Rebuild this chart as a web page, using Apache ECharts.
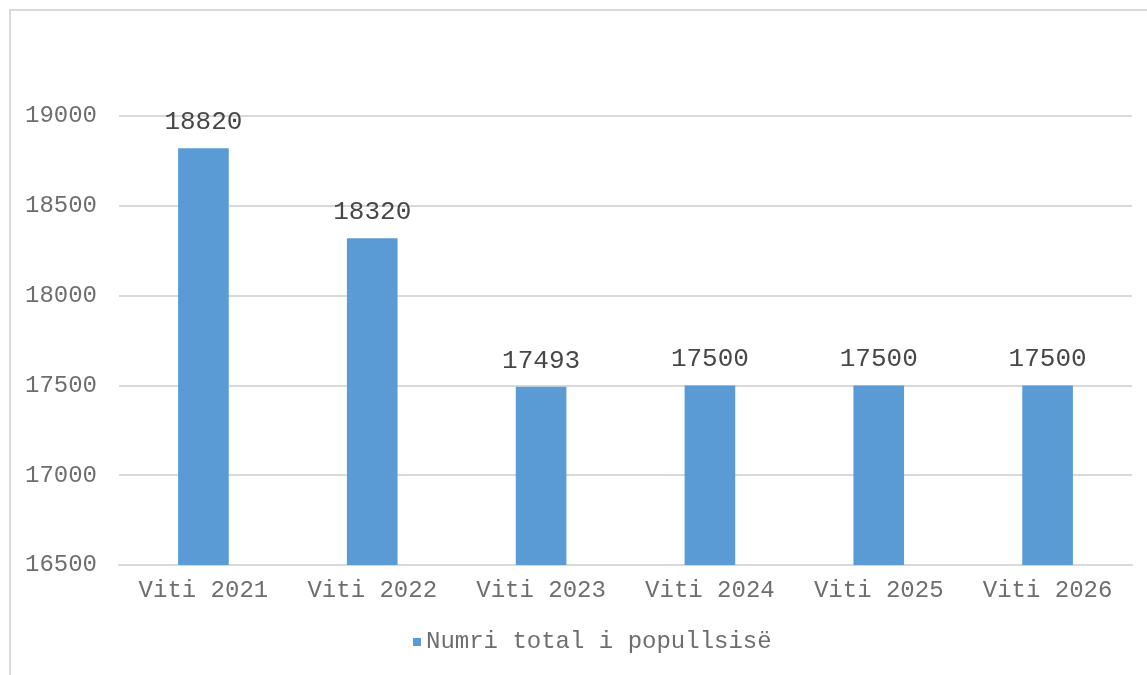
<!DOCTYPE html>
<html><head><meta charset="utf-8">
<script src="https://cdn.jsdelivr.net/npm/echarts@6/dist/echarts.min.js"></script>
<style>
html,body{margin:0;padding:0;background:#fff;overflow:hidden;}
#frame{position:absolute;left:9px;top:9px;width:1200px;height:700px;border:2px solid #d9d9d9;box-sizing:border-box;}
#c{position:absolute;left:0;top:0;width:1147px;height:675px;}
</style></head>
<body>
<div id="frame"></div>
<div id="c"></div>
<script>
const categories = ["Viti 2021","Viti 2022","Viti 2023","Viti 2024","Viti 2025","Viti 2026"];
const values = [18820, 18320, 17493, 17500, 17500, 17500];
const seriesName = "Numri total i popullsisë";
const yMin = 16500, yMax = 19000, yStep = 500;

const font = '"Liberation Mono", "Courier New", monospace';
const chart = echarts.init(document.getElementById('c'));
chart.setOption({
  animation:false,
  backgroundColor:'transparent',
  grid:{left:119, right:15, top:116, bottom:110, containLabel:false},
  legend:{
    data:[seriesName], bottom:16, left:408,
    icon:'rect', itemWidth:8, itemHeight:8, itemGap:6,
    textStyle:{fontFamily:font, fontSize:24, color:'#6e6e6e'}
  },
  xAxis:{
    type:'category', data:categories,
    axisLine:{lineStyle:{color:'#d9d9d9', width:2}},
    axisTick:{show:false},
    axisLabel:{fontFamily:font, fontSize:24, color:'#6e6e6e', margin:14}
  },
  yAxis:{
    type:'value', min:yMin, max:yMax, interval:yStep,
    axisLine:{show:false}, axisTick:{show:false},
    splitLine:{lineStyle:{color:'#d9d9d9', width:2}},
    axisLabel:{fontFamily:font, fontSize:24, color:'#6e6e6e', margin:22, formatter: v => String(v)}
  },
  series:[{
    name:seriesName, type:'bar', data:values, barWidth:'30%',
    itemStyle:{color:'#5b9bd5'},
    label:{show:true, position:'top', distance:13, fontFamily:font, fontSize:26, color:'#474747'}
  }]
});
</script>
</body></html>
